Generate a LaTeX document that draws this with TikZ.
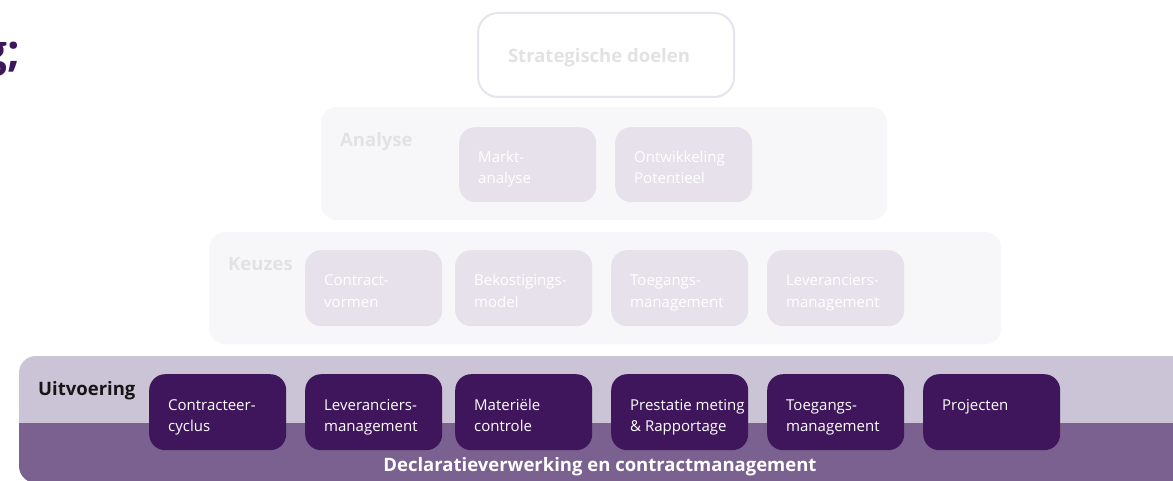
\documentclass[tikz,border=0pt]{standalone}
\usepackage{fontspec}
\setmainfont{Open Sans}
\usetikzlibrary{calc}
\definecolor{dpurple}{HTML}{3F165B}
\definecolor{upband}{HTML}{CBC3D6}
\definecolor{lowband}{HTML}{7B6190}
\definecolor{lpanel}{HTML}{F7F7F9}
\definecolor{lbox}{HTML}{E6E1EA}
\definecolor{ltext}{HTML}{E2E2E2}
\definecolor{sborder}{HTML}{E8E3EE}
\definecolor{nearblack}{HTML}{151515}
\newcommand\twoln[2]{\vtop{\baselineskip=21pt\hbox{#1}\hbox{#2}}}
\tikzset{
  panelbox/.style={fill=lpanel, draw=none, rounded corners=16pt, inner sep=0pt, anchor=north west},
  lightbox/.style={fill=lbox, draw=none, rounded corners=16pt, minimum width=137pt, minimum height=76pt, inner sep=0pt, anchor=north west},
  darkbox/.style={fill=dpurple, draw=none, rounded corners=16pt, minimum width=137pt, minimum height=76pt, inner sep=0pt, anchor=north west},
  boxtext/.style={inner sep=0pt, anchor=base west, font=\fontsize{15}{21}\selectfont},
  lighttxt/.style={boxtext, text=white},
  darktxt/.style={boxtext, text=white},
  boldtxt/.style={inner sep=0pt, font=\fontsize{18.5}{22}\selectfont\bfseries},
  paneltitle/.style={boldtxt, anchor=base west},
}
\begin{document}
\begin{tikzpicture}[x=1pt,y=-1pt]
\useasboundingbox (0,0) rectangle (1173,481);
\fill[white] (0,0) rectangle (1173,481);
% clipped title fragment
\node[inner sep=0pt, anchor=base east, text=dpurple, font=\fontsize{44}{46}\selectfont\bfseries] (ttl) at (20,67) {g;};
% Strategische doelen
\node[draw=sborder, line width=2pt, fill=white, rounded corners=20pt, minimum width=256pt, minimum height=84pt, inner sep=0pt, anchor=north west] (strat) at (477,12) {};
\node[boldtxt, anchor=base, text=ltext] (strattxt) at (599,63) {Strategische doelen};
% Analyse panel
\node[panelbox, minimum width=566pt, minimum height=113pt] (analyse) at (321,107) {};
\node[paneltitle, text=ltext] (analysetxt) at ($(analyse.north west)+(19,40)$) {Analyse};
\node[lightbox, minimum height=75pt] (a1) at (459,127) {};
\node[lightbox, minimum height=75pt] (a2) at (615,127) {};
\node[lighttxt] at ($(a1.north west)+(19,36)$) {\twoln{Markt-}{analyse}};
\node[lighttxt] at ($(a2.north west)+(19,36)$) {\twoln{Ontwikkeling}{Potentieel}};
% Keuzes panel
\node[panelbox, minimum width=792pt, minimum height=112pt] (keuzes) at (209,232) {};
\node[paneltitle, text=ltext] (keuzestxt) at ($(keuzes.north west)+(19,39)$) {Keuzes};
\node[lightbox] (k1) at (305,250) {};
\node[lightbox] (k2) at (455,250) {};
\node[lightbox] (k3) at (611,250) {};
\node[lightbox] (k4) at (767,250) {};
\node[lighttxt] at ($(k1.north west)+(19,36)$) {\twoln{Contract-}{vormen}};
\node[lighttxt] at ($(k2.north west)+(19,36)$) {\twoln{Bekostigings-}{model}};
\node[lighttxt] at ($(k3.north west)+(19,36)$) {\twoln{Toegangs-}{management}};
\node[lighttxt] at ($(k4.north west)+(19,36)$) {\twoln{Leveranciers-}{management}};
% Uitvoering panel
\begin{scope}
\clip[rounded corners=17pt] (19,356) rectangle (1220,483);
\fill[upband] (19,356) rectangle (1220,423);
\fill[lowband] (19,423) rectangle (1220,483);
\end{scope}
\coordinate (uitv) at (19,356);
\node[paneltitle, text=nearblack] (uitvtxt) at ($(uitv)+(19,39)$) {Uitvoering};
\node[darkbox] (u1) at (149,374) {};
\node[darkbox] (u2) at (305,374) {};
\node[darkbox] (u3) at (455,374) {};
\node[darkbox] (u4) at (611,374) {};
\node[darkbox] (u5) at (767,374) {};
\node[darkbox] (u6) at (923,374) {};
\node[darktxt] at ($(u1.north west)+(19,36)$) {\twoln{Contracteer-}{cyclus}};
\node[darktxt] at ($(u2.north west)+(19,36)$) {\twoln{Leveranciers-}{management}};
\node[darktxt] at ($(u3.north west)+(19,36)$) {\twoln{Materiële}{controle}};
\node[darktxt] at ($(u4.north west)+(19,36)$) {\twoln{Prestatie meting}{\& Rapportage}};
\node[darktxt] at ($(u5.north west)+(19,36)$) {\twoln{Toegangs-}{management}};
\node[darktxt] at ($(u6.north west)+(19,36)$) {Projecten};
\node[boldtxt, anchor=base, text=white] (decl) at (600,471) {Declaratieverwerking en contractmanagement};
\end{tikzpicture}
\end{document}
